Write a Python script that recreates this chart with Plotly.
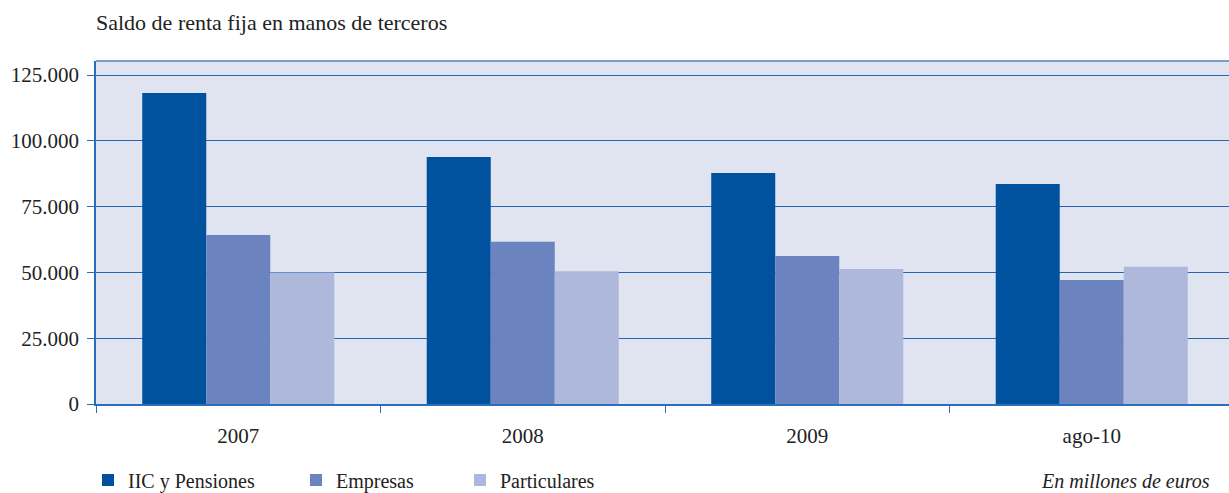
import plotly.graph_objects as go

categories = ["2007", "2008", "2009", "ago-10"]
iic_pensiones = [118200, 93800, 87800, 83600]
empresas = [64200, 61600, 56200, 47100]
particulares = [50000, 50400, 51300, 52100]

series_names = ["IIC y Pensiones", "Empresas", "Particulares"]
series_values = [iic_pensiones, empresas, particulares]
series_colors = ["#00529E", "#6B83BE", "#ADB8DA"]

y_ticks = [0, 25000, 50000, 75000, 100000, 125000]

FONT = "Liberation Serif, Times New Roman, Times, serif"
FS = 21
W, H = 1229, 493
PL, PR, PT, PB = 96, 1229, 61, 404

fig = go.Figure()
legend_ids = ["legend", "legend2", "legend3"]
for name, vals, col, lg in zip(series_names, series_values, series_colors, legend_ids):
    fig.add_trace(go.Bar(
        x=categories, y=vals, name=name,
        marker=dict(color=col, line=dict(width=0)),
        legend=lg,
    ))

legend_x = [88, 296, 460]
legend_common = dict(
    orientation="h", xref="container", yref="container",
    yanchor="middle", xanchor="left", y=1 - 480 / H,
    font=dict(family=FONT, size=20, color="#222222"),
    bgcolor="rgba(0,0,0,0)", borderwidth=0,
)

layout_legends = {}
for lg, lx in zip(legend_ids, legend_x):
    layout_legends[lg] = dict(legend_common, x=lx / W)

fig.update_layout(
    width=W, height=H,
    margin=dict(l=PL, r=W - PR, t=PT, b=H - PB),
    paper_bgcolor="white",
    plot_bgcolor="#E0E4F1",
    barmode="group",
    bargap=0.325,
    bargroupgap=0,
    separators=",.",
    showlegend=True,
    font=dict(family=FONT, size=FS, color="#222222"),
    title=dict(
        text="Saldo de renta fija en manos de terceros",
        xref="container", yref="container",
        x=96 / W, xanchor="left", y=1 - 22 / H, yanchor="middle",
        font=dict(family=FONT, size=22, color="#222222"),
    ),
    xaxis=dict(
        type="category",
        range=[-0.5, -0.5 + (PR - PL) / 284.5],
        showgrid=False,
        showline=True, linecolor="#2A6DB8", linewidth=1.5,
        ticks="outside", tickson="boundaries", ticklen=7,
        tickcolor="#2A6DB8", tickwidth=1,
        ticklabelstandoff=12,
        tickfont=dict(family=FONT, size=FS, color="#222222"),
        zeroline=False,
    ),
    yaxis=dict(
        range=[0, (PB - PT) / 2.632 * 1000],
        tickvals=y_ticks,
        tickformat=",d",
        showgrid=True, gridcolor="#2566B3", gridwidth=1.2,
        showline=True, linecolor="#2A6DB8", linewidth=1.5,
        ticks="outside", ticklen=7, tickcolor="#2A6DB8", tickwidth=1,
        ticklabelstandoff=4,
        tickfont=dict(family=FONT, size=FS, color="#222222"),
        zeroline=False,
    ),
    **layout_legends,
)

fig.add_shape(
    type="line", xref="paper", yref="paper",
    x0=0, x1=1, y0=1, y1=1,
    line=dict(color="#7E9CC8", width=2),
)

fig.add_annotation(
    text="<i>En millones de euros</i>",
    xref="paper", yref="paper",
    x=(1212 - PL) / (PR - PL), y=(PB - 481) / (PB - PT),
    xanchor="right", yanchor="middle",
    showarrow=False,
    font=dict(family=FONT, size=20, color="#222222"),
)

fig.write_html("out.html")
